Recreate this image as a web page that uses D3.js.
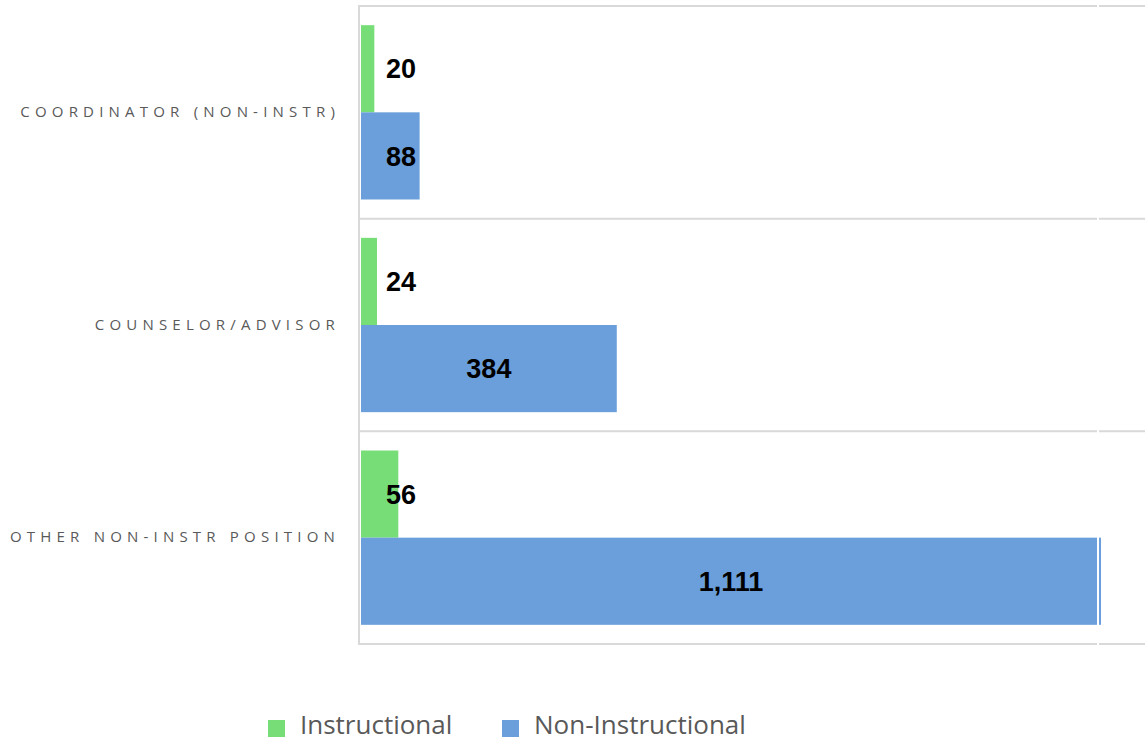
<!DOCTYPE html>
<html>
<head>
<meta charset="utf-8">
<script src="https://cdn.jsdelivr.net/npm/d3@7"></script>
<style>
  html, body { margin: 0; padding: 0; background: #fff; }
  svg { display: block; }
</style>
</head>
<body>
<svg id="chart" width="1145" height="741"></svg>
<script>
// Staff positions by type
const categories = ["COORDINATOR (NON-INSTR)", "COUNSELOR/ADVISOR", "OTHER NON-INSTR POSITION"];
const seriesNames = ["Instructional", "Non-Instructional"];
const instructional = [20, 24, 56];
const nonInstructional = [88, 384, 1111];
const seriesColors = ["#77dd77", "#6a9fdb"];

const rows = categories.map((c, i) => ({
  category: c,
  values: [
    { series: seriesNames[0], value: instructional[i] },
    { series: seriesNames[1], value: nonInstructional[i] }
  ]
}));

const svg = d3.select("#chart");
const W = 1145;
const plot = { left: 361, right: 1101, top: 6, bottom: 644 };

const x = d3.scaleLinear()
  .domain([0, d3.max(nonInstructional)])
  .range([plot.left, plot.right]);

const y = d3.scaleBand()
  .domain(categories)
  .range([plot.top, plot.bottom])
  .paddingInner(0).paddingOuter(0);

const ySub = d3.scaleBand()
  .domain(seriesNames)
  .range([0, y.bandwidth()])
  .paddingInner(0)
  .paddingOuter(0.22);

const color = d3.scaleOrdinal().domain(seriesNames).range(seriesColors);

// category separators
const grid = svg.append("g").attr("class", "grid");
const seps = categories.map(c => y(c)).concat([plot.bottom]);
grid.selectAll("line.h").data(seps).join("line")
  .attr("class", "h")
  .attr("x1", plot.left - 2).attr("x2", W)
  .attr("y1", d => d).attr("y2", d => d)
  .attr("stroke", "#d9d9d9").attr("stroke-width", 2);

// bars
const groups = svg.append("g").selectAll("g.cat").data(rows).join("g")
  .attr("class", "cat")
  .attr("transform", d => `translate(0,${y(d.category)})`);

groups.selectAll("rect").data(d => d.values).join("rect")
  .attr("x", x(0))
  .attr("y", d => ySub(d.series))
  .attr("width", d => x(d.value) - x(0))
  .attr("height", ySub.bandwidth())
  .attr("fill", d => color(d.series));

// thin white frame line near the right end of the plot
svg.append("line")
  .attr("x1", x(d3.max(nonInstructional)) - 3).attr("x2", x(d3.max(nonInstructional)) - 3)
  .attr("y1", plot.top - 2).attr("y2", plot.bottom + 2)
  .attr("stroke", "#fff").attr("stroke-width", 2);

// value axis line (left)
svg.append("line")
  .attr("x1", plot.left - 2).attr("x2", plot.left - 2)
  .attr("y1", plot.top - 1).attr("y2", plot.bottom + 1)
  .attr("stroke", "#d9d9d9").attr("stroke-width", 2);

// value labels
const fmt = d3.format(",");
groups.selectAll("text.val").data(d => d.values).join("text")
  .attr("class", "val")
  .attr("x", d => Math.max((x(0) + x(d.value)) / 2, x(0) + 40))
  .attr("y", d => ySub(d.series) + ySub.bandwidth() / 2)
  .attr("dy", "0.36em")
  .attr("text-anchor", "middle")
  .attr("font-family", "'Liberation Sans', Arial, sans-serif")
  .attr("font-weight", "bold")
  .attr("font-size", 27)
  .attr("fill", "#000")
  .text(d => fmt(d.value));

// category labels
const yAxis = d3.axisLeft(y).tickSize(0).tickPadding(0);
const yg = svg.append("g")
  .attr("transform", `translate(${plot.left - 21},0)`)
  .call(yAxis);
yg.select(".domain").remove();
yg.selectAll("text")
  .attr("font-family", "'Open Sans', sans-serif")
  .attr("font-size", 15)
  .attr("letter-spacing", "5.2px")
  .attr("fill", "#595959");

// legend
const legend = svg.append("g").attr("class", "legend");
const legendX = [268, 502];
const li = legend.selectAll("g").data(seriesNames).join("g")
  .attr("transform", (d, i) => `translate(${legendX[i]},720)`);
li.append("rect").attr("width", 17).attr("height", 17).attr("fill", d => color(d));
li.append("text")
  .attr("x", 32).attr("y", 14)
  .attr("font-family", "'Open Sans', sans-serif")
  .attr("font-size", 26)
  .attr("fill", "#595959")
  .text(d => d);
</script>
</body>
</html>
